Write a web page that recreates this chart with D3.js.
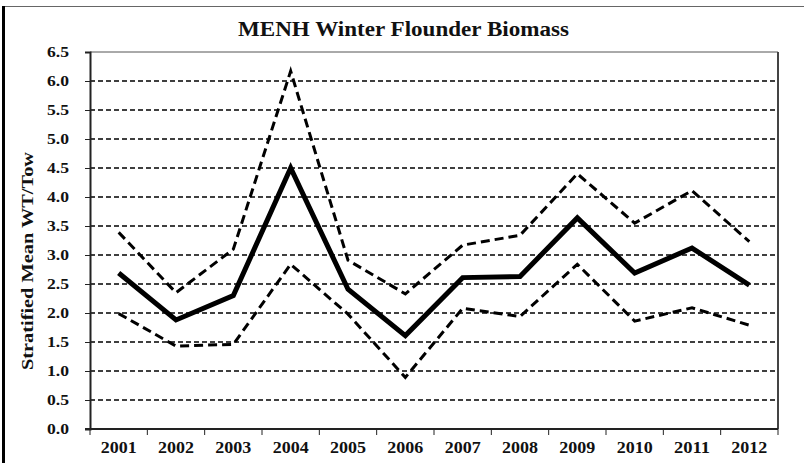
<!DOCTYPE html>
<html>
<head>
<meta charset="utf-8">
<script src="https://cdn.jsdelivr.net/npm/d3@7"></script>
<style>
  body { margin: 0; background: #fff; }
  svg text { font-family: "Liberation Serif", "Times New Roman", serif; font-weight: bold; fill: #111; }
</style>
</head>
<body>
<div id="chart"></div>
<script>
// Data
const years = ["2001", "2002", "2003", "2004", "2005", "2006", "2007", "2008", "2009", "2010", "2011", "2012"];
const meanWt = [2.69, 1.88, 2.30, 4.50, 2.41, 1.61, 2.61, 2.63, 3.64, 2.69, 3.12, 2.48];
const upperCI = [3.39, 2.35, 3.10, 6.17, 2.91, 2.33, 3.17, 3.34, 4.40, 3.55, 4.11, 3.23];
const lowerCI = [1.99, 1.43, 1.46, 2.84, 1.98, 0.89, 2.08, 1.94, 2.84, 1.86, 2.09, 1.79];
const yTicks = d3.range(0, 6.51, 0.5);

const width = 804;
const height = 463;
const margin = { top: 52, right: 26, bottom: 34, left: 90 };
const innerW = width - margin.left - margin.right;
const innerH = height - margin.top - margin.bottom;

const svg = d3.select("#chart")
  .append("svg")
  .attr("width", width)
  .attr("height", height);

// outer frame (top thin gray, left thick black)
svg.append("line")
  .attr("x1", 4).attr("x2", width).attr("y1", 6.5).attr("y2", 6.5)
  .attr("stroke", "#666").attr("stroke-width", 1);
svg.append("line")
  .attr("x1", 3.5).attr("x2", 3.5).attr("y1", 6).attr("y2", height)
  .attr("stroke", "#000").attr("stroke-width", 3);

// title (the source font is wider, so stretch to its width)
svg.append("text")
  .attr("x", 403.5)
  .attr("y", 35.5)
  .attr("text-anchor", "middle")
  .attr("textLength", 331)
  .attr("lengthAdjust", "spacingAndGlyphs")
  .style("font-size", "20px")
  .text("MENH Winter Flounder Biomass");

const g = svg.append("g")
  .attr("transform", `translate(${margin.left},${margin.top})`);

const x = d3.scaleBand()
  .domain(years)
  .range([0, innerW]);

const y = d3.scaleLinear()
  .domain([0, 6.5])
  .range([innerH, 0]);

// dashed gridlines
g.selectAll(".grid")
  .data(yTicks.filter(d => d > 0 && d < 6.5))
  .enter()
  .append("line")
  .attr("class", "grid")
  .attr("x1", 0).attr("x2", innerW)
  .attr("y1", d => y(d)).attr("y2", d => y(d))
  .attr("stroke", "#000")
  .attr("stroke-width", 1.4)
  .attr("stroke-dasharray", "5,3");

// plot area border: top and right
g.append("line")
  .attr("x1", 0).attr("x2", innerW).attr("y1", 0).attr("y2", 0)
  .attr("stroke", "#555").attr("stroke-width", 1);
g.append("line")
  .attr("x1", innerW).attr("x2", innerW).attr("y1", 0).attr("y2", innerH)
  .attr("stroke", "#444").attr("stroke-width", 2);

// y axis
const yAxis = g.append("g")
  .call(d3.axisLeft(y).tickValues(yTicks).tickFormat(d3.format(".1f")).tickSize(5).tickPadding(16));
yAxis.select(".domain").attr("stroke", "#222").attr("stroke-width", 2);
yAxis.selectAll(".tick line").attr("stroke", "#222").attr("stroke-width", 1);
yAxis.selectAll("text")
  .style("font-size", "15px")
  .style("font-family", "Liberation Serif, serif")
  .style("font-weight", "bold")
  .attr("textLength", 22)
  .attr("lengthAdjust", "spacingAndGlyphs")
  .attr("fill", "#111");

// x axis: ticks between categories
const xAxisG = g.append("g")
  .attr("transform", `translate(0,${innerH})`);
xAxisG.append("line")
  .attr("x1", -5).attr("x2", innerW).attr("y1", 0).attr("y2", 0)
  .attr("stroke", "#222").attr("stroke-width", 2);
xAxisG.selectAll(".xtick")
  .data(d3.range(years.length + 1))
  .enter()
  .append("line")
  .attr("class", "xtick")
  .attr("x1", i => i * x.step()).attr("x2", i => i * x.step())
  .attr("y1", 0).attr("y2", 6)
  .attr("stroke", "#222").attr("stroke-width", 1);
xAxisG.selectAll(".xlabel")
  .data(years)
  .enter()
  .append("text")
  .attr("class", "xlabel")
  .attr("x", d => x(d) + x.bandwidth() / 2)
  .attr("y", 24)
  .attr("text-anchor", "middle")
  .attr("textLength", 36)
  .attr("lengthAdjust", "spacingAndGlyphs")
  .style("font-size", "16px")
  .text(d => d);

// y axis title
svg.append("text")
  .attr("transform", `translate(33,261) rotate(-90)`)
  .attr("text-anchor", "middle")
  .attr("textLength", 218)
  .attr("lengthAdjust", "spacingAndGlyphs")
  .style("font-size", "17px")
  .text("Stratified Mean WT/Tow");

const line = d3.line()
  .x((d, i) => x(years[i]) + x.bandwidth() / 2)
  .y(d => y(d));

g.append("path")
  .datum(upperCI)
  .attr("d", line)
  .attr("fill", "none")
  .attr("stroke", "#000")
  .attr("stroke-width", 3)
  .attr("stroke-dasharray", "9,5");

g.append("path")
  .datum(lowerCI)
  .attr("d", line)
  .attr("fill", "none")
  .attr("stroke", "#000")
  .attr("stroke-width", 3)
  .attr("stroke-dasharray", "9,5");

g.append("path")
  .datum(meanWt)
  .attr("d", line)
  .attr("fill", "none")
  .attr("stroke", "#000")
  .attr("stroke-width", 5)
  .attr("stroke-linejoin", "miter");
</script>
</body>
</html>
